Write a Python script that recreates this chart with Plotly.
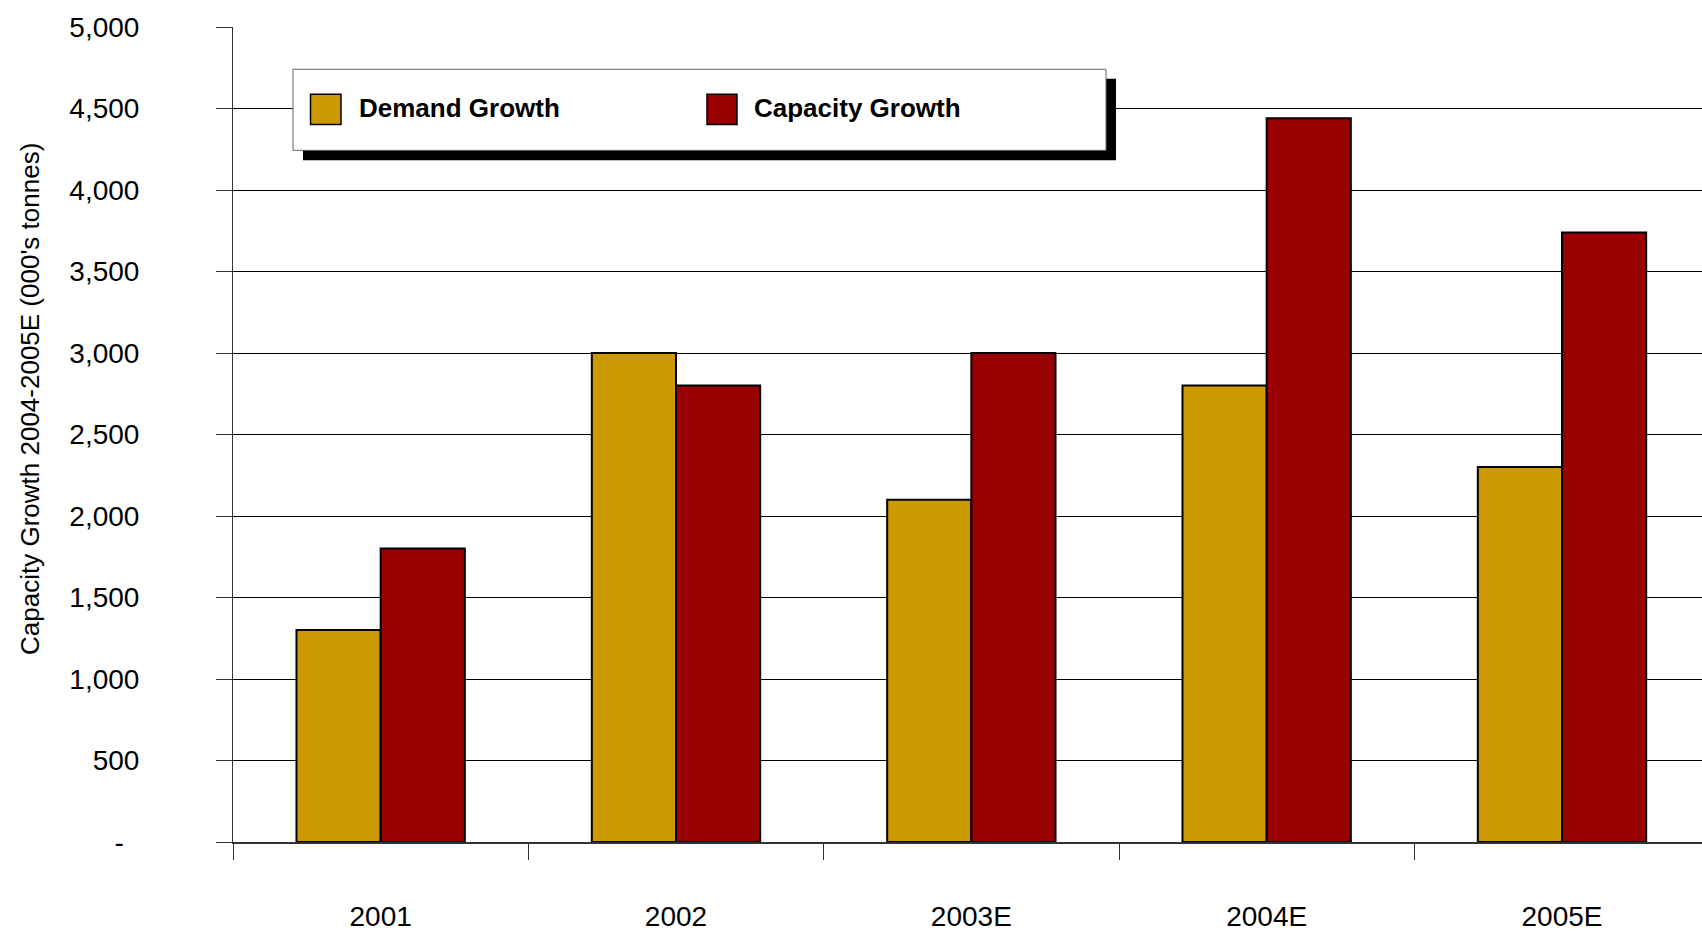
import plotly.graph_objects as go

# Chart data
years = ["2001", "2002", "2003E", "2004E", "2005E"]
demand_growth = [1300, 3000, 2100, 2800, 2300]
capacity_growth = [1800, 2800, 3000, 4440, 3740]

y_tick_vals = [0, 500, 1000, 1500, 2000, 2500, 3000, 3500, 4000, 4500, 5000]
y_tick_text = ["-\u00a0\u00a0", "500", "1,000", "1,500", "2,000", "2,500",
               "3,000", "3,500", "4,000", "4,500", "5,000"]

DEMAND_COLOR = "#CC9900"
CAPACITY_COLOR = "#990000"
FONT = "Liberation Sans Narrow, Arial Narrow, Liberation Sans, Arial, sans-serif"

W, H = 1702, 932
ML, MR, MT, MB = 233, 0, 27, 85.5
PW, PH = W - ML - MR, H - MT - MB


def px(x):
    return (x - ML) / PW


def py(y):
    return (H - MB - y) / PH


fig = go.Figure()
fig.add_trace(go.Bar(
    x=years, y=demand_growth, name="Demand Growth",
    marker=dict(color=DEMAND_COLOR, line=dict(color="#000000", width=2)),
))
fig.add_trace(go.Bar(
    x=years, y=capacity_growth, name="Capacity Growth",
    marker=dict(color=CAPACITY_COLOR, line=dict(color="#000000", width=2)),
))

# Legend panel with drop shadow
shapes = [
    dict(type="rect", xref="paper", yref="paper",
         x0=px(303), x1=px(1116), y0=py(161), y1=py(79),
         fillcolor="#000000", line=dict(width=0), layer="above"),
    dict(type="rect", xref="paper", yref="paper",
         x0=px(293), x1=px(1106), y0=py(151), y1=py(69.5),
         fillcolor="#FFFFFF", line=dict(color="#666666", width=1), layer="above"),
    dict(type="rect", xref="paper", yref="paper",
         x0=px(310.5), x1=px(341), y0=py(125), y1=py(94.5),
         fillcolor=DEMAND_COLOR, line=dict(color="#000000", width=1.5), layer="above"),
    dict(type="rect", xref="paper", yref="paper",
         x0=px(707), x1=px(737), y0=py(125), y1=py(94.5),
         fillcolor=CAPACITY_COLOR, line=dict(color="#000000", width=1.5), layer="above"),
]

annotations = [
    dict(text="<b>Demand Growth</b>", xref="paper", yref="paper",
         x=px(357), y=py(108), xanchor="left", yanchor="middle", showarrow=False,
         font=dict(family=FONT, size=26, color="#000000")),
    dict(text="<b>Capacity Growth</b>", xref="paper", yref="paper",
         x=px(752), y=py(108), xanchor="left", yanchor="middle", showarrow=False,
         font=dict(family=FONT, size=26, color="#000000")),
    dict(text="Capacity Growth 2004-2005E (000's tonnes)", xref="paper", yref="paper",
         x=px(30), y=py(401), xanchor="center", yanchor="middle", textangle=-90,
         showarrow=False, font=dict(family=FONT, size=26, color="#000000")),
]

fig.update_layout(
    width=W, height=H,
    margin=dict(l=ML, r=MR, t=MT, b=MB, pad=0),
    paper_bgcolor="#FFFFFF", plot_bgcolor="#FFFFFF",
    barmode="group", bargap=0.43, bargroupgap=0,
    showlegend=False,
    font=dict(family=FONT, size=28, color="#000000"),
    shapes=shapes, annotations=annotations,
    xaxis=dict(
        type="category", range=[-0.5, 4.474],
        tickson="boundaries", ticks="outside", ticklen=16, tickwidth=1,
        tickcolor="#333333", showline=True, linecolor="#333333", linewidth=2,
        showgrid=False, ticklabelstandoff=48,
        tickfont=dict(family=FONT, size=28, color="#000000"),
    ),
    yaxis=dict(
        range=[0, 5000], tickvals=y_tick_vals, ticktext=y_tick_text,
        ticks="outside", ticklen=16, tickwidth=1, tickcolor="#333333",
        showline=True, linecolor="#333333", linewidth=1,
        showgrid=True, gridcolor="#000000", gridwidth=1,
        zeroline=False, ticklabelstandoff=71,
        tickfont=dict(family=FONT, size=28, color="#000000"),
    ),
)

fig.write_html("out.html")
